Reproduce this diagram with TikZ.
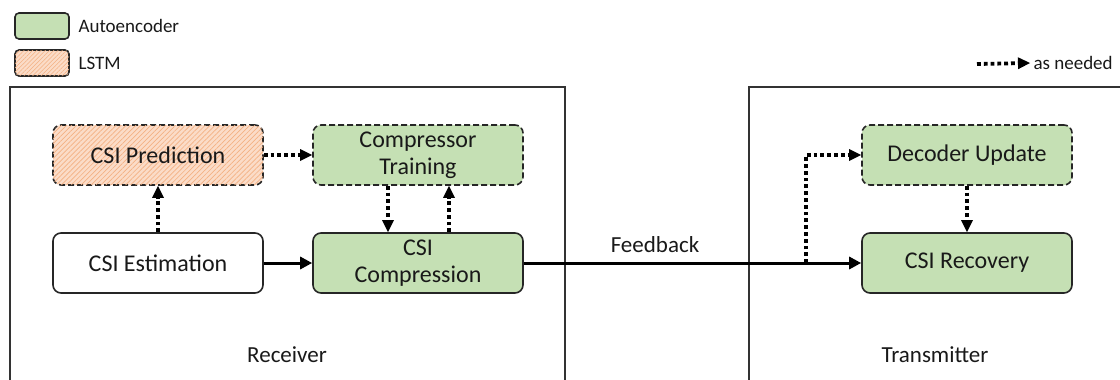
\documentclass[tikz,border=0pt]{standalone}
\usepackage{fontspec}
\setmainfont{Carlito}
\usetikzlibrary{arrows.meta,patterns.meta}
\definecolor{aegreen}{HTML}{C5E0B4}
\definecolor{lstmfill}{HTML}{FBDCC8}
\definecolor{lstmline}{HTML}{F4B183}
\tikzset{
  blk/.style={draw=black!85, line width=1.6pt, rounded corners=8pt, minimum width=210pt, minimum height=60pt, align=center, font=\fontsize{24}{28}\selectfont, text=black!90, inner sep=0pt},
  ae/.style={blk, fill=aegreen},
  lstm/.style={blk, fill=lstmfill, postaction={pattern={Lines[angle=45,distance=3.5pt,line width=0.7pt]}, pattern color=lstmline}},
  dsh/.style={dash pattern=on 6pt off 3pt},
  solidarr/.style={line width=3pt, -{Triangle[length=12pt,width=12pt]}},
  dotarr/.style={line width=3.8pt, dash pattern=on 3.8pt off 3pt, -{Triangle[length=12pt,width=12pt,line width=0pt]}},
  lbl/.style={font=\fontsize{23}{26}\selectfont, text=black!90},
  small/.style={font=\fontsize{19}{21}\selectfont, text=black!90, anchor=west}
}
\begin{document}
\begin{tikzpicture}[x=1pt,y=-1pt]
\useasboundingbox (0,0) rectangle (1120,380);
% containers
\draw[line width=1.5pt, draw=black!80] (10,380) -- (10,87) -- (565,87) -- (565,380);
\draw[line width=1.5pt, draw=black!80] (749,380) -- (749,87) -- (1120,87);
\node[lbl] (rx) at (287,355) {Receiver};
\node[lbl] (tx) at (935,355) {Transmitter};
% legend
\node[draw=black!85, line width=1.6pt, rounded corners=4pt, fill=aegreen, minimum width=54pt, minimum height=26pt, inner sep=0pt] (lgae) at (42,26) {};
\node[small] (lgaet) at (75,26) {Autoencoder};
\node[draw=black!85, line width=1.6pt, rounded corners=4pt, fill=lstmfill, postaction={pattern={Lines[angle=45,distance=3pt,line width=0.6pt]}, pattern color=lstmline}, minimum width=54pt, minimum height=26pt, inner sep=0pt] (lglstm) at (42,63) {};
\node[small] (lglstmt) at (75,63) {LSTM};
\coordinate (lgdot) at (977,64);
\node[small] (lgdott) at (1030,63) {as needed};
\draw[dotarr] (lgdot) -- (lgdott.west);
% blocks
\node[lstm, dsh] (pred) at (158,155) {CSI Prediction};
\node[ae, dsh] (train) at (418,155) {Compressor\\[-1pt]Training};
\node[blk, fill=white] (est) at (158,263) {CSI Estimation};
\node[ae] (comp) at (418,263) {CSI\\[-1pt]Compression};
\node[ae, dsh] (dec) at (967,155) {Decoder Update};
\node[ae] (rec) at (967,263) {CSI Recovery};
% connectors
\draw[dotarr] (est.north) -- (pred.south);
\draw[dotarr] (pred.east) -- (train.west);
\draw[dotarr] (train.south -| 388,0) -- (comp.north -| 388,0);
\draw[dotarr] (comp.north -| 449,0) -- (train.south -| 449,0);
\draw[solidarr] (est.east) -- (comp.west);
\coordinate (br) at (806,263);
\draw[solidarr] (comp.east) -- (rec.west);
\node[lbl, anchor=south] (fb) at (655,256) {Feedback};
\draw[dotarr] (br) -- (806,155) -- (dec.west);
\draw[dotarr] (dec.south) -- (rec.north);
\end{tikzpicture}
\end{document}
